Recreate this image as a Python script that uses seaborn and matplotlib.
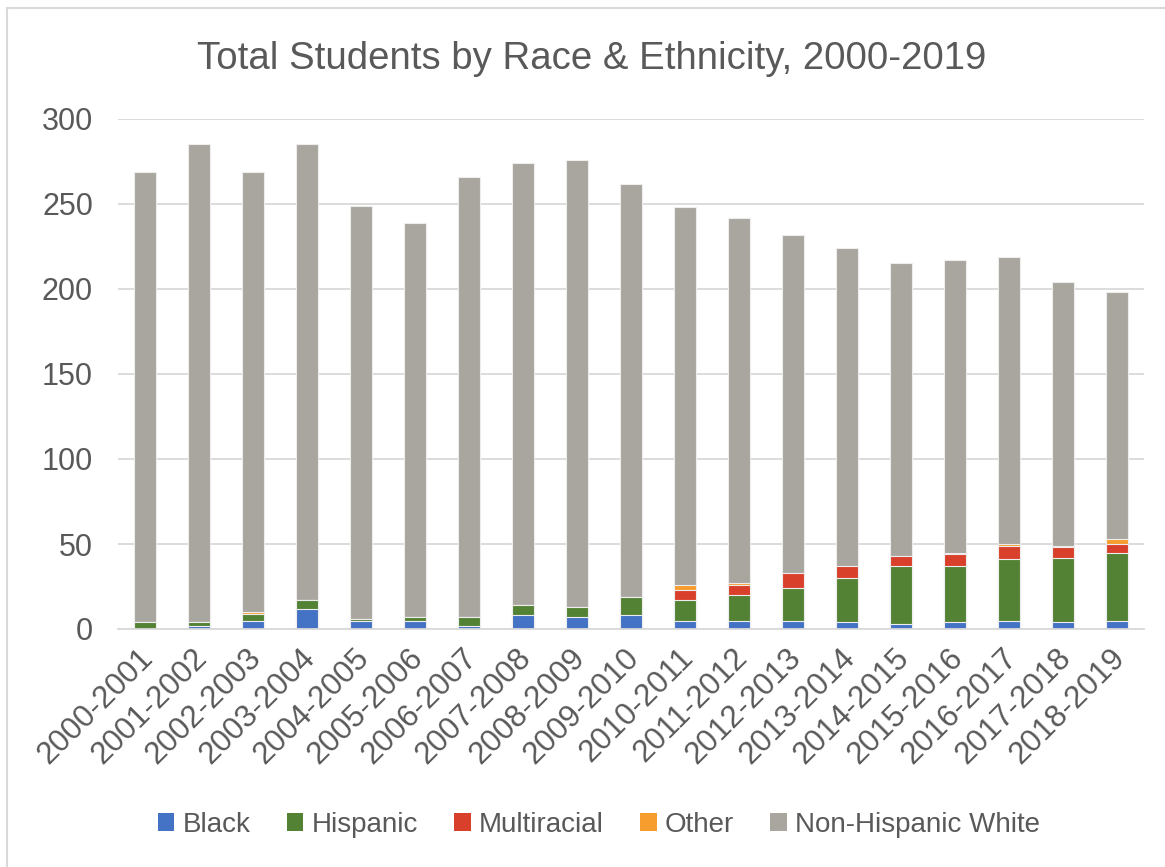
import numpy as np
import pandas as pd
import matplotlib
matplotlib.use("Agg")
import matplotlib.pyplot as plt
from matplotlib.patches import Patch
from matplotlib.lines import Line2D
from matplotlib.transforms import ScaledTranslation
import seaborn as sns

# School years
years = ["2000-2001", "2001-2002", "2002-2003", "2003-2004", "2004-2005",
         "2005-2006", "2006-2007", "2007-2008", "2008-2009", "2009-2010",
         "2010-2011", "2011-2012", "2012-2013", "2013-2014", "2014-2015",
         "2015-2016", "2016-2017", "2017-2018", "2018-2019"]

# Enrollment counts by group
black = [0, 2, 5, 12, 5, 5, 2, 8, 7, 8, 5, 5, 5, 4, 3, 4, 5, 4, 5]
hispanic = [4, 2, 4, 5, 1, 2, 5, 6, 6, 11, 12, 15, 19, 26, 34, 33, 36, 38, 40]
multiracial = [0, 0, 0, 0, 0, 0, 0, 0, 0, 0, 6, 6, 9, 7, 6, 7, 8, 6, 5]
other = [0, 0, 1, 0, 0, 0, 0, 0, 0, 0, 3, 1, 0, 0, 0, 1, 1, 1, 3]
total = [269, 285, 269, 285, 249, 239, 266, 274, 276, 262,
         248, 242, 232, 224, 215, 217, 219, 204, 198]
non_hispanic_white = [t - b - h - m - o for t, b, h, m, o in
                      zip(total, black, hispanic, multiracial, other)]

groups = ["Black", "Hispanic", "Multiracial", "Other", "Non-Hispanic White"]
colors = ["#4472C4", "#548235", "#D9402B", "#F79D2E", "#A9A69F"]
series = [black, hispanic, multiracial, other, non_hispanic_white]

text_color = "#595959"
grid_color = "#D9D9D9"

sns.set_theme(style="white")
plt.rcParams["font.family"] = ["Liberation Sans", "DejaVu Sans"]

fig = plt.figure(figsize=(11.65, 8.67), dpi=100)
ax = fig.add_axes([118 / 1165, 1 - 629 / 867, 1026 / 1165, 510 / 867])

# Stacked columns: draw cumulative heights from the top layer down
cum = np.cumsum(np.array(series, dtype=float), axis=0)
for i in range(len(groups) - 1, -1, -1):
    df = pd.DataFrame({"year": years, "value": cum[i]})
    sns.barplot(data=df, x="year", y="value", color=colors[i], width=0.4,
                saturation=1, edgecolor="#EDEDED", linewidth=0.8, ax=ax,
                zorder=3)

ax.set_ylim(0, 300)
ax.set_xlim(-0.5, len(years) - 0.5)
ax.set_yticks(range(0, 301, 50))
ax.yaxis.grid(True, color=grid_color, linewidth=1.3, zorder=0)
ax.set_axisbelow(True)
for s in ["left", "right", "top"]:
    ax.spines[s].set_visible(False)
ax.spines["bottom"].set_color(grid_color)
ax.spines["bottom"].set_linewidth(1.3)
ax.spines["bottom"].set_zorder(4)
ax.set_xlabel("")
ax.set_ylabel("")
ax.tick_params(axis="y", length=0, pad=18, labelsize=22, labelcolor=text_color)
ax.tick_params(axis="x", length=0, pad=10, labelsize=22.5, labelcolor=text_color)
shift = ScaledTranslation(-7 / 100, 0, fig.dpi_scale_trans)
for lab in ax.get_xticklabels():
    lab.set_rotation(45)
    lab.set_ha("right")
    lab.set_rotation_mode("anchor")
    lab.set_transform(lab.get_transform() + shift)

fig.text(592 / 1165, 1 - 59 / 867, "Total Students by Race & Ethnicity, 2000-2019",
         ha="center", va="center", fontsize=27.6, color=text_color)

handles = [Patch(facecolor=c, edgecolor="none", label=g) for g, c in zip(groups, colors)]
fig.legend(handles=handles, loc="center", bbox_to_anchor=(599 / 1165, 1 - 825 / 867),
           ncol=5, frameon=False, fontsize=20, handlelength=0.6, handleheight=0.6,
           handletextpad=0.3, columnspacing=1.3, labelcolor=text_color)

# Chart-area frame edges
fig.add_artist(Line2D([7 / 1165, 7 / 1165], [0, 1 - 8 / 867], transform=fig.transFigure,
                      color=grid_color, linewidth=1.5))
fig.add_artist(Line2D([7 / 1165, 1], [1 - 8 / 867, 1 - 8 / 867], transform=fig.transFigure,
                      color=grid_color, linewidth=1.5))

fig.savefig("out.png", dpi=100, facecolor="white")
